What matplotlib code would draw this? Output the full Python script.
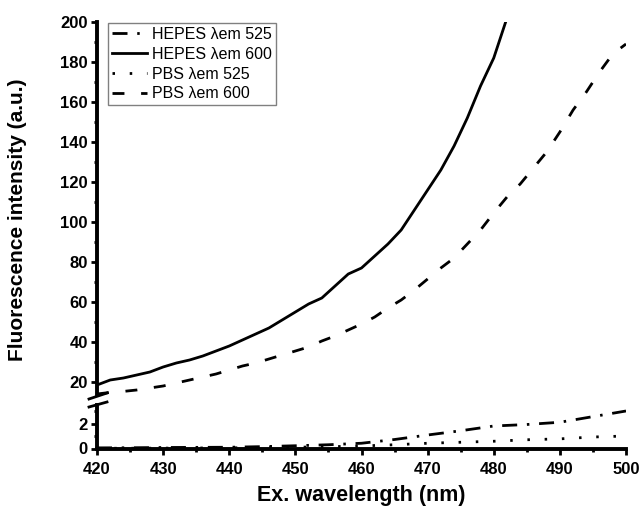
import numpy as np
import matplotlib.pyplot as plt
from matplotlib.lines import Line2D
from matplotlib.ticker import MultipleLocator

plt.rcParams['font.family'] = ['Liberation Sans', 'DejaVu Sans']

# excitation wavelengths (nm)
wl_hepes600 = np.arange(420, 486, 2)
wl_pbs600 = np.arange(420, 502, 2)
wl_525 = np.arange(420, 505, 5)

# upper panel series
hepes_600 = [18.5, 21, 22, 23.5, 25, 27.5, 29.5, 31, 33, 35.5, 38, 41, 44, 47, 51,
             55, 59, 62, 68, 74, 77, 83, 89, 96, 106, 116, 126, 138, 152, 168, 182,
             202, 225]
pbs_600 = [14, 14.8, 15.3, 16, 17, 18, 19.5, 21, 22.5, 24, 26, 28, 29.5, 31.5, 33.5,
           35.5, 37.5, 40.5, 43, 46, 49, 52.5, 57, 61, 66, 71.5, 77, 82, 89, 96,
           104.5, 112.5, 119, 127, 135, 145, 156, 165, 175, 184, 189]

# lower panel series
hepes_525 = [0.05, 0.06, 0.08, 0.09, 0.1, 0.15, 0.22, 0.3, 0.42, 0.72, 1.08, 1.42,
             1.8, 1.92, 2.1, 2.55, 3.0]
pbs_525 = [0.02, 0.02, 0.03, 0.04, 0.05, 0.07, 0.1, 0.14, 0.2, 0.3, 0.42, 0.5,
           0.58, 0.7, 0.77, 0.92, 1.0]

W, H = 643, 517
fig = plt.figure(figsize=(W / 100, H / 100), dpi=100)

left, right = 97, 626
ax_top = fig.add_axes([left / W, 1 - 395 / H, (right - left) / W, (395 - 22) / H])
ax_bot = fig.add_axes([left / W, 1 - 448.5 / H, (right - left) / W, 43.5 / H])

lw = 2
l_h525, = ax_bot.plot(wl_525, hepes_525, color='black', lw=lw,
                      dashes=(5.4, 3.5, 0.9, 3.5), label='HEPES λem 525')
l_p525, = ax_bot.plot(wl_525, pbs_525, color='black', lw=lw,
                      dashes=(0.9, 5.3), label='PBS λem 525')
l_h600, = ax_top.plot(wl_hepes600, hepes_600, color='black', lw=lw,
                      label='HEPES λem 600')
l_p600, = ax_top.plot(wl_pbs600, pbs_600, color='black', lw=lw,
                      dashes=(4.3, 6.0), label='PBS λem 600')

for ax in (ax_top, ax_bot):
    ax.set_xlim(420, 500)
    ax.spines['top'].set_visible(False)
    ax.spines['right'].set_visible(False)
    ax.spines['left'].set_linewidth(2.8)
    ax.spines['bottom'].set_linewidth(2.8)
    ax.tick_params(which='major', length=4.5, width=2, labelsize=12, pad=2)
    ax.tick_params(which='minor', length=2.5, width=2)

ax_top.spines['bottom'].set_visible(False)
ax_top.tick_params(axis='x', which='both', bottom=False, labelbottom=False)
ax_top.set_ylim(13.5, 200)
ax_top.yaxis.set_major_locator(MultipleLocator(20))
ax_top.yaxis.set_minor_locator(MultipleLocator(10))

ax_bot.set_ylim(0, 3.48)
ax_bot.set_yticks([0, 2])
ax_bot.set_yticks([1, 3], minor=True)
ax_bot.xaxis.set_major_locator(MultipleLocator(10))
ax_bot.xaxis.set_minor_locator(MultipleLocator(5))
ax_bot.tick_params(axis='x', which='major', pad=5)

for ax in (ax_top, ax_bot):
    for t in ax.get_yticklabels() + ax.get_xticklabels():
        t.set_fontweight('bold')

ax_bot.set_xlabel('Ex. wavelength (nm)', fontsize=15.5, fontweight='bold', labelpad=6)
fig.text(18 / W, 1 - 220 / H, 'Fluorescence intensity (a.u.)', rotation=90,
         fontsize=15, fontweight='bold', ha='center', va='center')

# axis break marks
for (x0, y0, x1, y1) in [(89, 399, 107, 393), (89, 407, 107, 402)]:
    fig.add_artist(Line2D([x0 / W, x1 / W], [1 - y0 / H, 1 - y1 / H],
                          transform=fig.transFigure, color='black', lw=2))

leg = ax_top.legend(handles=[l_h525, l_h600, l_p525, l_p600], loc='upper left',
                    bbox_to_anchor=(108 / W, 1 - 23 / H), bbox_transform=fig.transFigure,
                    borderaxespad=0, fontsize=11.5, handlelength=2.2, handletextpad=0.3,
                    labelspacing=0.3, borderpad=0.25, fancybox=False, framealpha=1)
leg.get_frame().set_edgecolor('#808080')
leg.get_frame().set_linewidth(1)

fig.savefig('out.png', dpi=100)
